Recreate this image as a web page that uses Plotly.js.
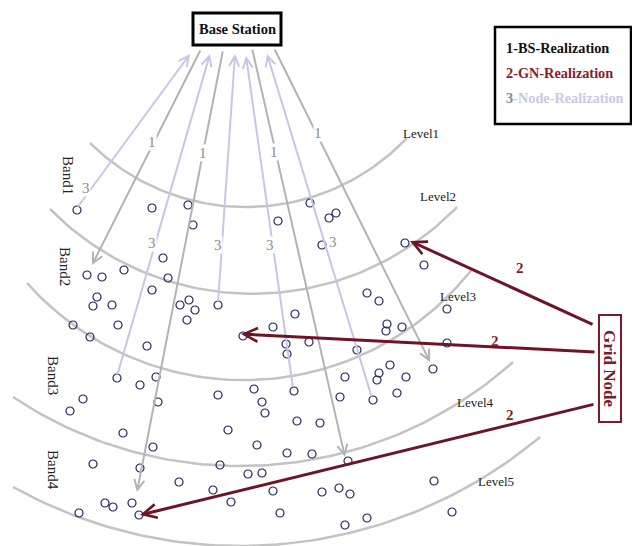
<!DOCTYPE html>
<html><head><meta charset="utf-8">
<script src="https://cdn.plot.ly/plotly-3.0.1.min.js"></script>
<style>html,body{margin:0;padding:0;background:#fff;}#chart{width:632px;height:546px;}</style>
</head><body><div id="chart"></div>
<script>
// ---- level arcs (start point, a middle point, end point) ----
const levelNames = ['Level1', 'Level2', 'Level3', 'Level4', 'Level5'];
const arcStartX = [90, 50, 27, 13, 13];
const arcStartY = [143, 209, 283, 397, 487];
const arcMidX = [240, 232, 250, 235, 270];
const arcMidY = [207, 293, 380, 466, 545];
const arcEndX = [407, 457, 473, 513, 540];
const arcEndY = [138, 207, 268, 362, 437];
const levelLabelX = [421, 438, 458, 475, 496];
const levelLabelY = [133, 196, 296, 402, 481];

// ---- band labels ----
const bandNames = ['Band1', 'Band2', 'Band3', 'Band4'];
const bandX = [68, 65, 53, 53];
const bandY = [175, 266, 375, 470];

// ---- sensor nodes ----
const nodeX = [77,152,188,193,163,87,102,124,168,152,97,93,112,180,189,195,187,218,73,90,118,147,295,273,243,286,287,309,278,310,322,329,336,405,424,367,379,387,386,402,447,447,357,433,390,379,377,406,345,397,373,340,320,312,348,322,339,350,434,452,345,367,156,158,218,254,262,265,294,297,228,257,287,153,220,248,262,117,140,83,70,123,140,93,179,213,231,273,280,105,113,132,139,79];
const nodeY = [210,208,205,225,258,275,277,270,278,290,297,306,305,305,300,310,320,305,325,337,325,346,314,327,336,344,354,342,221,203,245,218,213,243,265,293,301,324,331,327,309,343,350,369,365,373,380,377,377,393,400,397,423,454,461,492,488,494,481,512,525,518,377,402,395,389,402,413,391,421,430,445,453,447,465,474,473,378,385,399,411,433,468,464,482,490,502,491,513,503,507,503,515,513];

// ---- 1: BS realization (base station -> node) ----
const oneTailX = [201, 223, 252, 274];
const oneTailY = [49, 50, 48, 48];
const oneHeadX = [92, 137, 345, 430];
const oneHeadY = [265, 492, 457, 362];
const oneLabelX = [152, 203, 274, 318];
const oneLabelY = [142, 153, 152, 133];

// ---- 3: Node realization (node -> base station) ----
const threeTailX = [77, 117, 218, 293, 372];
const threeTailY = [208, 376, 303, 388, 398];
const threeHeadX = [190, 210, 235, 246, 267];
const threeHeadY = [54, 54, 54, 56, 54];
const threeLabelX = [86, 152, 218, 270, 333];
const threeLabelY = [188, 243, 245, 245, 242];

// ---- 2: GN realization (grid node -> node) ----
const twoTailX = [594, 596, 595];
const twoTailY = [325, 352, 404];
const twoHeadX = [410, 241, 140];
const twoHeadY = [241, 334, 515];
const twoLabelX = [520, 495, 510];
const twoLabelY = [268, 341, 415];

// ---- legend text ----
const legendLines = ['1-BS-Realization', '2-GN-Realization', '<span style="color:#8a8a8a">3</span>-Node-Realization'];
const legendColors = ['#111111', '#8b1a2b', '#c9c9e6'];

const SERIF = 'Liberation Serif, Times New Roman, serif';
const ARC_COLOR = '#c3c3c3';
const ONE_COLOR = '#b3b3b3';
const THREE_COLOR = '#c6c6e6';
const TWO_COLOR = '#6e1426';

function circleArc(x0, y0, x1, y1, x2, y2) {
  const d = 2 * (x0 * (y1 - y2) + x1 * (y2 - y0) + x2 * (y0 - y1));
  const s0 = x0 * x0 + y0 * y0, s1 = x1 * x1 + y1 * y1, s2 = x2 * x2 + y2 * y2;
  const cx = (s0 * (y1 - y2) + s1 * (y2 - y0) + s2 * (y0 - y1)) / d;
  const cy = (s0 * (x2 - x1) + s1 * (x0 - x2) + s2 * (x1 - x0)) / d;
  const r = Math.hypot(x0 - cx, y0 - cy);
  const a0 = Math.atan2(y0 - cy, x0 - cx), a2 = Math.atan2(y2 - cy, x2 - cx);
  const xs = [], ys = [];
  const n = 80;
  for (let i = 0; i <= n; i++) {
    const a = a0 + (a2 - a0) * i / n;
    xs.push(cx + r * Math.cos(a));
    ys.push(cy + r * Math.sin(a));
  }
  return [xs, ys];
}

const traces = [];
for (let i = 0; i < levelNames.length; i++) {
  const [xs, ys] = circleArc(arcStartX[i], arcStartY[i], arcMidX[i], arcMidY[i], arcEndX[i], arcEndY[i]);
  traces.push({x: xs, y: ys, mode: 'lines', line: {color: ARC_COLOR, width: 2.5}, hoverinfo: 'skip', showlegend: false});
}
traces.push({x: nodeX, y: nodeY, mode: 'markers', hoverinfo: 'skip', showlegend: false,
  marker: {symbol: 'circle-open', size: 8, color: '#222a5e', line: {width: 1.2, color: '#222a5e'}}});

const ann = [];
function arrow(tx, ty, hx, hy, color, width, size) {
  ann.push({xref: 'x', yref: 'y', axref: 'x', ayref: 'y', x: hx, y: hy, ax: tx, ay: ty, text: '',
    showarrow: true, arrowhead: 5, arrowsize: size, arrowwidth: width, arrowcolor: color, standoff: 0});
}
function label(x, y, text, size, color, opts) {
  ann.push(Object.assign({xref: 'x', yref: 'y', x: x, y: y, text: text, showarrow: false,
    font: {family: SERIF, size: size, color: color}, xanchor: 'center', yanchor: 'middle'}, opts || {}));
}
for (let i = 0; i < oneTailX.length; i++) arrow(oneTailX[i], oneTailY[i], oneHeadX[i], oneHeadY[i], ONE_COLOR, 2, 1);
for (let i = 0; i < threeTailX.length; i++) arrow(threeTailX[i], threeTailY[i], threeHeadX[i], threeHeadY[i], THREE_COLOR, 2, 1);
for (let i = 0; i < twoTailX.length; i++) arrow(twoTailX[i], twoTailY[i], twoHeadX[i], twoHeadY[i], TWO_COLOR, 3, 0.9);

for (let i = 0; i < oneLabelX.length; i++) label(oneLabelX[i], oneLabelY[i], '1', 15, '#8c8c8c', {bgcolor: '#ffffff', borderpad: 0});
for (let i = 0; i < threeLabelX.length; i++) label(threeLabelX[i], threeLabelY[i], '3', 15, '#8c8c8c', {bgcolor: '#ffffff', borderpad: 0});
for (let i = 0; i < twoLabelX.length; i++) label(twoLabelX[i], twoLabelY[i], '<b>2</b>', 15, '#8b1a2b');
for (let i = 0; i < levelNames.length; i++) label(levelLabelX[i], levelLabelY[i], levelNames[i], 13, '#222222');
for (let i = 0; i < bandNames.length; i++) label(bandX[i], bandY[i], bandNames[i], 15, '#222222', {textangle: 90});

label(237, 29, '<b>Base Station</b>', 14.5, '#111111');
label(610, 368, '<b>Grid Node</b>', 17, '#7a1a2a', {textangle: 90});
for (let i = 0; i < legendLines.length; i++) {
  label(504, 48 + i * 25, '<b>' + legendLines[i] + '</b>', 14.3, legendColors[i], {xanchor: 'left'});
}

const shapes = [
  {type: 'rect', xref: 'x', yref: 'y', x0: 193, x1: 281, y0: 13, y1: 45, line: {color: '#000', width: 3}, fillcolor: '#fff', layer: 'above'},
  {type: 'rect', xref: 'x', yref: 'y', x0: 495, x1: 631, y0: 27, y1: 124, line: {color: '#000', width: 2.5}, fillcolor: '#fff', layer: 'above'},
  {type: 'rect', xref: 'x', yref: 'y', x0: 599, x1: 621, y0: 315, y1: 422, line: {color: '#7a1a2a', width: 2}, fillcolor: '#fff', layer: 'above'}
];

const layout = {
  width: 632, height: 546,
  margin: {l: 0, r: 0, t: 0, b: 0},
  paper_bgcolor: '#ffffff', plot_bgcolor: '#ffffff',
  xaxis: {range: [0, 632], visible: false, fixedrange: true},
  yaxis: {range: [546, 0], visible: false, fixedrange: true},
  showlegend: false,
  shapes: shapes,
  annotations: ann
};
Plotly.newPlot('chart', traces, layout, {staticPlot: true, displayModeBar: false});
</script>
</body></html>
